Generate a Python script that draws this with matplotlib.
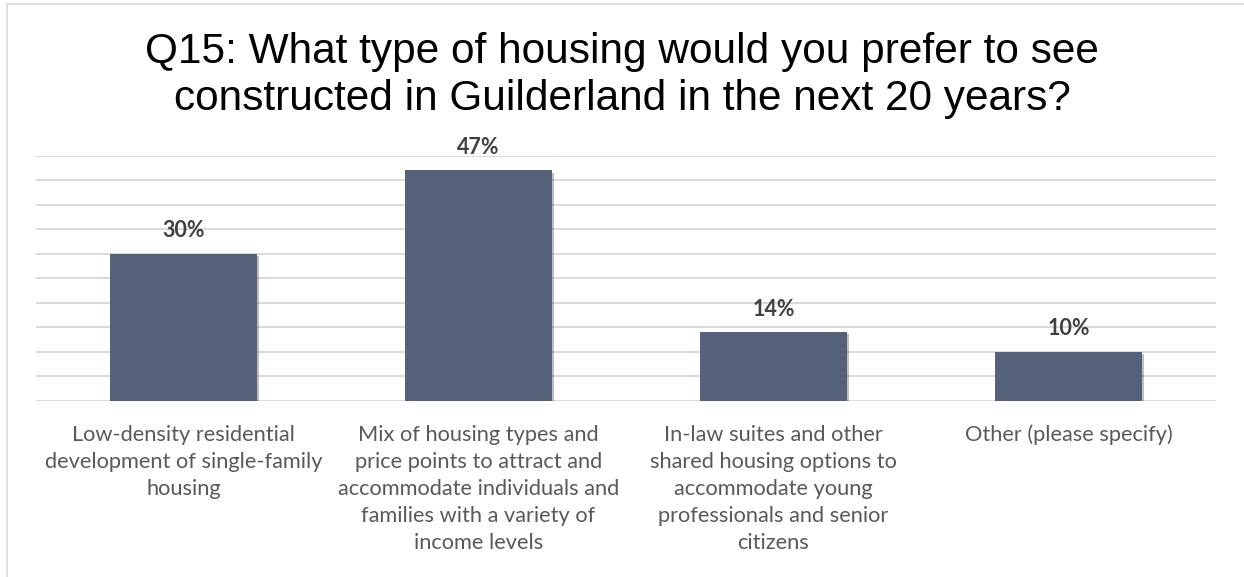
import matplotlib.pyplot as plt
import matplotlib.patheffects as pe
from matplotlib.lines import Line2D

categories = [
    "Low-density residential\ndevelopment of single-family\nhousing",
    "Mix of housing types and\nprice points to attract and\naccommodate individuals and\nfamilies with a variety of\nincome levels",
    "In-law suites and other\nshared housing options to\naccommodate young\nprofessionals and senior\ncitizens",
    "Other (please specify)",
]
shares = [30, 47, 14, 10]
gridlines = [0, 5, 10, 15, 20, 25, 30, 35, 40, 45, 50]

title = "Q15: What type of housing would you prefer to see\nconstructed in Guilderland in the next 20 years?"

fig = plt.figure(figsize=(12.44, 5.77), dpi=100)
ax = fig.add_axes([36 / 1244, 176 / 577, 1180 / 1244, 245.3 / 577])

x = range(len(categories))
bars = ax.bar(x, shares, width=0.5, color="#546179", zorder=3)
for b in bars:
    b.set_path_effects([pe.SimplePatchShadow(offset=(1.5, -1.5), shadow_rgbFace="#000000", alpha=0.25),
                        pe.Normal()])

# percentage labels above each bar
for xi, v in zip(x, shares):
    ax.text(xi, v + 4.7, f"{v}%", ha="center", va="center", fontsize=15.5,
            fontweight="bold", color="#404040", family="Lato", clip_on=False)

for g in gridlines:
    ax.axhline(g, color="#d9d9d9", lw=1.4, zorder=1)

ax.set_xlim(-0.5, 3.5)
ax.set_ylim(0, 50)
ax.set_yticks([])
ax.set_xticks(list(x))
ax.set_xticklabels(categories, fontsize=15.7, color="#595959", family="Lato", linespacing=1.45)
ax.tick_params(axis="x", length=0, pad=17)
for s in ax.spines.values():
    s.set_visible(False)

fig.suptitle(title, y=1 - 32 / 577, va="top", fontsize=30.5, family="Liberation Sans",
             color="#000000", linespacing=1.22)

# thin frame around the chart area
fig.add_artist(Line2D([7 / 1244, 7 / 1244], [0, 1 - 4 / 577], color="#d9d9d9", lw=1.2))
fig.add_artist(Line2D([7 / 1244, 1], [1 - 4 / 577, 1 - 4 / 577], color="#d9d9d9", lw=1.2))

fig.savefig("out.png", dpi=100, facecolor="white")
